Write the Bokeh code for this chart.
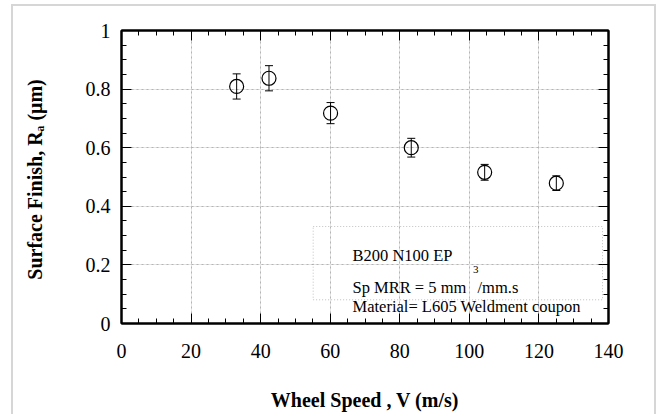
from bokeh.plotting import figure
from bokeh.models import (ColumnDataSource, Whisker, TeeHead, Label, BoxAnnotation,
                          LinearAxis, FixedTicker, Range1d, Grid)
from bokeh.embed import file_html
from bokeh.resources import INLINE

# ---- data ----
wheel_speed = [33.1, 42.4, 60.1, 83.3, 104.4, 125.0]
surface_ra = [0.809, 0.837, 0.718, 0.600, 0.516, 0.479]
ra_error = [0.043, 0.043, 0.036, 0.032, 0.027, 0.025]

x_ticks = [0, 20, 40, 60, 80, 100, 120, 140]
x_tick_labels = ["0", "20", "40", "60", "80", "100", "120", "140"]
y_ticks = [0, 0.2, 0.4, 0.6, 0.8, 1.0]
y_tick_labels = ["0", "0.2", "0.4", "0.6", "0.8", "1"]

x_title = "Wheel Speed , V (m/s)"
y_title = "Surface Finish, R\u2090  (\u03bcm)"
note_1 = "B200 N100 EP"
note_2a = "Sp MRR = 5 mm"
note_2b = "3"
note_2c = "/mm.s"
note_3 = "Material= L605 Weldment coupon"

FONT = "Liberation Serif"

# ---- page geometry (pixels) ----
ML, MT = 13, 6
W, H = 641, 408
FL, FR, FT, FB = 121, 608, 30, 323  # frame on page

X0, X1 = 0, 140
Y0, Y1 = 0, 1


def dx(px):
    return X0 + (px - FL) / (FR - FL) * (X1 - X0)


def dy(py):
    return Y0 + (FB - py) / (FB - FT) * (Y1 - Y0)


p = figure(width=W, height=H, output_backend="svg", toolbar_location=None,
           x_range=Range1d(X0, X1), y_range=Range1d(Y0, Y1),
           min_border_left=FL - ML, min_border_right=(ML + W) - FR,
           min_border_top=FT - MT, min_border_bottom=(MT + H) - FB,
           x_axis_location=None, y_axis_location=None,
           background_fill_color="white", border_fill_color="white")
p.margin = (MT, 0, 0, ML)
p.styles = {"outline": "2px solid #d6d6d6"}
p.outline_line_color = "black"
p.outline_line_width = 2

x_minor = [i * 5 for i in range(29)]
y_minor = [round(i * 0.05, 2) for i in range(21)]


def make_axis(ticks, minor, labels, show_labels):
    ax = LinearAxis(ticker=FixedTicker(ticks=ticks, minor_ticks=minor))
    ax.major_label_overrides = {t: l for t, l in zip(ticks, labels)}
    ax.axis_line_color = "black"
    ax.axis_line_width = 2
    ax.major_tick_in = 10
    ax.major_tick_out = 0
    ax.minor_tick_in = 5
    ax.minor_tick_out = 0
    ax.major_tick_line_color = "black"
    ax.minor_tick_line_color = "black"
    ax.major_tick_line_width = 1
    ax.minor_tick_line_width = 1
    ax.major_label_text_font = FONT
    ax.major_label_text_color = "black"
    ax.axis_label_text_font = FONT
    ax.axis_label_text_font_size = "20px"
    ax.axis_label_text_font_style = "bold"
    ax.axis_label_text_color = "black"
    if show_labels:
        ax.major_label_text_font_size = "20px"
    else:
        ax.major_label_text_font_size = "0px"
        ax.major_label_standoff = 0
    return ax


xb = make_axis(x_ticks, x_minor, x_tick_labels, True)
xb.major_label_standoff = 20
xb.axis_label = x_title
xb.axis_label_standoff = 28
p.add_layout(xb, "below")

yl = make_axis(y_ticks, y_minor, y_tick_labels, True)
yl.major_label_standoff = 11
yl.axis_label = y_title
yl.axis_label_standoff = 37
p.add_layout(yl, "left")

xt = make_axis(x_ticks, x_minor, [""] * len(x_ticks), False)
p.add_layout(xt, "above")
yr = make_axis(y_ticks, y_minor, [""] * len(y_ticks), False)
p.add_layout(yr, "right")

# grid
for dim, tks in ((0, x_ticks), (1, y_ticks)):
    g = Grid(dimension=dim, ticker=FixedTicker(ticks=tks))
    g.grid_line_color = "#b4b4b4"
    g.grid_line_dash = "2 3"
    g.grid_line_width = 1
    p.add_layout(g)

# data
src = ColumnDataSource(dict(
    x=wheel_speed, y=surface_ra,
    upper=[v + e for v, e in zip(surface_ra, ra_error)],
    lower=[v - e for v, e in zip(surface_ra, ra_error)],
))
p.scatter("x", "y", source=src, marker="circle", size=14, fill_color=None,
          line_color="black", line_width=1.2)
wh = Whisker(base="x", upper="upper", lower="lower", source=src, dimension="height",
             line_color="black", line_width=1,
             upper_head=TeeHead(size=8, line_color="black", line_width=1),
             lower_head=TeeHead(size=8, line_color="black", line_width=1))
p.add_layout(wh)

# note box
box = BoxAnnotation(left=dx(312.7), right=dx(602), top=dy(226), bottom=dy(299.3),
                    fill_color=None, line_color="#333333", line_dash="1 2", line_width=1)
p.add_layout(box)


def lab(text, px, py, size, style="normal"):
    p.add_layout(Label(x=dx(px), y=dy(py), text=text, text_font=FONT,
                       text_font_size=size, text_font_style=style, text_color="black",
                       text_align="left", text_baseline="alphabetic"))


lab(note_1, 352, 255, "16.5px")
lab(note_2a, 352, 286.7, "16.5px")
lab(note_2b, 472.5, 268.5, "11px")
lab(note_2c, 477, 286.7, "16.5px")
lab(note_3, 352, 306, "16.5px")

open("out.html", "w").write(file_html(p, INLINE))
